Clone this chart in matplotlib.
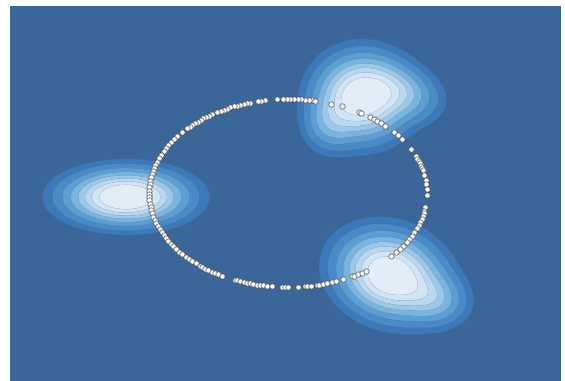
import numpy as np
import matplotlib
matplotlib.use("Agg")
import matplotlib.pyplot as plt

# Ring of observations: position angle (degrees) on the ellipse
ring_center = (288.0, 188.0)
ring_radii = (139.0, 94.0)
ring_angles = [
    # upper-right arc down the right side
    80, 79, 72, 67, 59.5, 58.5, 54, 52, 50, 48, 45.5, 40.5, 38, 35, 28,
    23, 21.5, 20, 18.5, 17, 15.5, 14, 11, 8, 5.5, 2.5, -1.2, -8.5, -11,
    -12.5, -14, -16, -18, -20, -22, -24.5, -27, -29.5, -31.5, -34.5, -36.5,
    -39, -42,
    # top arc and left side
    81.5, 83, 84.5, 86, 87.5, 89, 90.5, 92, 94.5, 99.5, 101, 102.5, 106,
    107, 108.5, 110, 111.5, 113, 114.5, 116, 117.5, 119, 120.5, 123, 124.5,
    126, 127.5, 129, 130.5, 132, 133.5, 135, 136.5, 139.6, 142.9, 145,
    147.4, 149.5, 151.6, 153.5, 156, 158, 160.5, 162.5, 164.5, 166.5, 168.5,
    170.5, 172.5, 174.5, 176.5, 178.5, 180.5, 182.5, 184.5, 186.5, 188.5,
    190.5, 192.5, 194.5, 196.5, 198.5, 200.5, 202.5, 204.5, 206.5, 208.5,
    210.5, 212.5, 214.5, 216.5, 218.5, 220.5, 222.5, 224.5, 226.5, 228.5,
    230.5, 232, 233.5, 235, 237, 238.5, 240, 241.7,
    # bottom arc
    247.4, 248.5, 250, 251.5, 253, 254.3, 255.5, 257, 258.5, 259.7, 261.5,
    263.4, 267.5, 268.8, 270, 274, 277, 278, 279.5, 282, 283, 284.5, 286.5,
    288.5, 290.4, 293.4, 297.5, 298.5, 300, 302, 304,
]

# Density clusters: each blob is a small Gaussian mixture
# (blob id, center x, center y, sigma x, sigma y, correlation, weight)
comp_blob = [0, 1, 1, 1, 2, 2]
comp_x = [126, 362, 402, 330, 390, 434]
comp_y = [184, 284, 289, 257, 106, 82]
comp_sx = [33, 25, 22, 15, 28, 19]
comp_sy = [15, 23, 16, 16, 23, 15]
comp_rho = [0.0, 0.0, -0.25, 0.0, -0.15, -0.1]
comp_w = [1.0, 1.0, 0.3, 0.22, 1.0, 0.28]

# Contour levels (fraction of each blob's peak) and fill colours
levels = [0.04, 0.083, 0.155, 0.246, 0.351, 0.462, 0.582, 0.719, 1.01]
band_colors = ["#3d79b8", "#4a8ac6", "#5c9ed1", "#7ab3dc", "#9cc7e6",
               "#bad7ee", "#d2e4f3", "#e1ecf7"]
background = "#3a6699"

fig = plt.figure(figsize=(5.65, 3.81), dpi=100)
ax = fig.add_axes([10 / 565, 0, 551 / 565, 375 / 381])
ax.set_facecolor(background)
ax.set_xlim(10, 561)
ax.set_ylim(0, 375)

gx = np.linspace(10, 561, 552)
gy = np.linspace(0, 375, 376)
X, Y = np.meshgrid(gx, gy)
Z = np.zeros_like(X)
for b in sorted(set(comp_blob)):
    D = np.zeros_like(X)
    for i, cb in enumerate(comp_blob):
        if cb != b:
            continue
        dx = (X - comp_x[i]) / comp_sx[i]
        dy = (Y - comp_y[i]) / comp_sy[i]
        r = comp_rho[i]
        q = (dx * dx - 2 * r * dx * dy + dy * dy) / (1 - r * r)
        D += comp_w[i] * np.exp(-0.5 * q)
    Z = np.maximum(Z, D / D.max())

ax.contourf(X, Y, Z, levels=levels, colors=band_colors, antialiased=True)

theta = np.deg2rad(np.array(ring_angles))
px = ring_center[0] + ring_radii[0] * np.cos(theta)
py = ring_center[1] + ring_radii[1] * np.sin(theta)
ax.scatter(px, py, s=14, facecolor="white", edgecolor="#555555",
           linewidth=0.5, zorder=3)

for s in ax.spines.values():
    s.set_visible(False)
ax.set_xticks([])
ax.set_yticks([])

fig.savefig("out.png", dpi=100)
